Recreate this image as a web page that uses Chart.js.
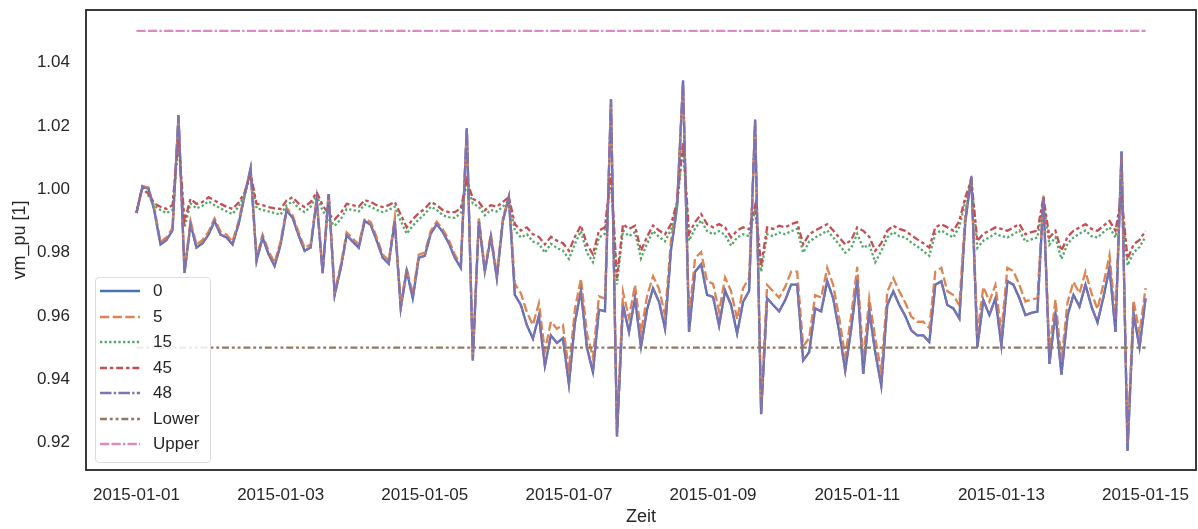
<!DOCTYPE html>
<html>
<head>
<meta charset="utf-8">
<script src="https://cdn.jsdelivr.net/npm/chart.js@4.4.1/dist/chart.umd.min.js"></script>
<style>
    html, body { margin: 0; padding: 0; background: #fff; }
    #wrap { position: relative; width: 1198px; height: 529px; }
    #legend {
        position: absolute; left: 95px; top: 277px; width: 116px; height: 186px;
        box-sizing: border-box; border: 1px solid #dcdcdc; border-radius: 4px;
        background: rgba(255, 255, 255, 0.85);
        font-family: 'Liberation Sans', Arial, sans-serif; font-size: 17px; color: #262626;
    }
    .row { position: absolute; left: 0; width: 100%; height: 26px; }
    .row svg { position: absolute; left: 4px; top: 8px; }
    .row span { position: absolute; left: 57px; top: 3px; line-height: 20px; white-space: nowrap; }
</style>
</head>
<body>
<div id="wrap">
    <canvas id="chart" width="1198" height="529"></canvas>
    <div id="legend"></div>
</div>
<script>
    "use strict";

    // Data: one value every 2 hours from 2015-01-01 00:00
    const stepHours = 2;

    const s0 = [
        0.9925, 1.0008, 1.0002, 0.9930, 0.9826, 0.9840, 0.9870, 1.0234, 0.9736, 0.9890, 0.9816, 0.9830,
        0.9857, 0.9900, 0.9857, 0.9848, 0.9826, 0.9890, 0.9980, 1.0066, 0.9774, 0.9848, 0.9795, 0.9758,
        0.9826, 0.9934, 0.9910, 0.9855, 0.9806, 0.9816, 0.9966, 0.9735, 0.9985, 0.9667, 0.9750, 0.9855,
        0.9835, 0.9816, 0.9900, 0.9888, 0.9838, 0.9784, 0.9765, 0.9900, 0.9625, 0.9742, 0.9656, 0.9784,
        0.9790, 0.9860, 0.9890, 0.9865, 0.9830, 0.9784, 0.9752, 1.0193, 0.9460, 0.9900, 0.9740, 0.9850,
        0.9720, 0.9900, 0.9975, 0.9667, 0.9635, 0.9571, 0.9529, 0.9600, 0.9443, 0.9539, 0.9515, 0.9530,
        0.9385, 0.9580, 0.9679, 0.9500, 0.9423, 0.9620, 0.9615, 1.0285, 0.9220, 0.9635, 0.9550, 0.9656,
        0.9503, 0.9620, 0.9688, 0.9645, 0.9560, 0.9810, 0.9944, 1.0343, 0.9550, 0.9740, 0.9763, 0.9667,
        0.9660, 0.9570, 0.9680, 0.9635, 0.9545, 0.9645, 0.9679, 1.0220, 0.9290, 0.9656, 0.9635, 0.9615,
        0.9650, 0.9699, 0.9699, 0.9460, 0.9486, 0.9624, 0.9615, 0.9710, 0.9656, 0.9550, 0.9428, 0.9560,
        0.9715, 0.9417, 0.9614, 0.9486, 0.9380, 0.9635, 0.9678, 0.9635, 0.9600, 0.9555, 0.9539, 0.9539,
        0.9518, 0.9699, 0.9710, 0.9635, 0.9624, 0.9592, 0.9900, 1.0040, 0.9502, 0.9650, 0.9603, 0.9656,
        0.9507, 0.9710, 0.9699, 0.9656, 0.9603, 0.9610, 0.9614, 0.9975, 0.9449, 0.9610, 0.9415, 0.9600,
        0.9667, 0.9630, 0.9699, 0.9630, 0.9580, 0.9660, 0.9752, 0.9550, 1.0119, 0.9175, 0.9608, 0.9500,
        0.9656
    ];

    const s5 = [
        0.9928, 1.0010, 1.0006, 0.9938, 0.9834, 0.9848, 0.9878, 1.0225, 0.9745, 0.9900, 0.9825, 0.9840,
        0.9866, 0.9908, 0.9866, 0.9857, 0.9835, 0.9899, 0.9985, 1.0060, 0.9784, 0.9857, 0.9805, 0.9768,
        0.9836, 0.9942, 0.9918, 0.9864, 0.9815, 0.9826, 0.9972, 0.9745, 0.9988, 0.9678, 0.9760, 0.9864,
        0.9844, 0.9826, 0.9908, 0.9897, 0.9848, 0.9794, 0.9775, 0.9908, 0.9636, 0.9752, 0.9667, 0.9794,
        0.9800, 0.9869, 0.9898, 0.9874, 0.9840, 0.9794, 0.9762, 1.0185, 0.9475, 0.9908, 0.9752, 0.9860,
        0.9732, 0.9908, 0.9978, 0.9702, 0.9672, 0.9612, 0.9572, 0.9640, 0.9490, 0.9582, 0.9560, 0.9572,
        0.9430, 0.9622, 0.9718, 0.9545, 0.9468, 0.9662, 0.9655, 1.0270, 0.9245, 0.9676, 0.9594, 0.9698,
        0.9548, 0.9662, 0.9726, 0.9686, 0.9602, 0.9840, 0.9958, 1.0330, 0.9595, 0.9782, 0.9802, 0.9710,
        0.9702, 0.9614, 0.9722, 0.9678, 0.9590, 0.9688, 0.9720, 1.0205, 0.9315, 0.9698, 0.9678, 0.9658,
        0.9692, 0.9740, 0.9740, 0.9505, 0.9530, 0.9666, 0.9658, 0.9752, 0.9698, 0.9594, 0.9472, 0.9602,
        0.9755, 0.9460, 0.9656, 0.9530, 0.9424, 0.9676, 0.9720, 0.9678, 0.9642, 0.9598, 0.9582, 0.9582,
        0.9562, 0.9740, 0.9752, 0.9678, 0.9666, 0.9634, 0.9925, 1.0040, 0.9545, 0.9692, 0.9646, 0.9698,
        0.9550, 0.9752, 0.9742, 0.9698, 0.9646, 0.9652, 0.9656, 0.9980, 0.9490, 0.9652, 0.9458, 0.9642,
        0.9708, 0.9672, 0.9740, 0.9672, 0.9622, 0.9702, 0.9792, 0.9595, 1.0110, 0.9200, 0.9650, 0.9545,
        0.9688
    ];

    const s15 = [
        0.9925, 1.0008, 0.9980, 0.9948, 0.9935, 0.9925, 0.9935, 1.0150, 0.9880, 0.9955, 0.9940, 0.9948,
        0.9962, 0.9950, 0.9940, 0.9930, 0.9922, 0.9945, 0.9982, 1.0045, 0.9940, 0.9935, 0.9930, 0.9925,
        0.9920, 0.9950, 0.9962, 0.9940, 0.9928, 0.9945, 0.9982, 0.9932, 0.9905, 0.9885, 0.9905, 0.9938,
        0.9935, 0.9930, 0.9952, 0.9945, 0.9935, 0.9928, 0.9935, 0.9945, 0.9900, 0.9860, 0.9885, 0.9905,
        0.9922, 0.9945, 0.9935, 0.9918, 0.9912, 0.9910, 0.9925, 1.0020, 0.9955, 0.9945, 0.9918, 0.9935,
        0.9930, 0.9945, 0.9965, 0.9870, 0.9848, 0.9858, 0.9835, 0.9828, 0.9800, 0.9828, 0.9815, 0.9806,
        0.9780, 0.9828, 0.9868, 0.9800, 0.9770, 0.9848, 0.9860, 1.0040, 0.9700, 0.9870, 0.9852, 0.9865,
        0.9782, 0.9828, 0.9868, 0.9850, 0.9836, 0.9872, 0.9948, 1.0140, 0.9838, 0.9876, 0.9902, 0.9868,
        0.9858, 0.9868, 0.9856, 0.9822, 0.9848, 0.9858, 0.9852, 0.9935, 0.9740, 0.9858, 0.9852, 0.9864,
        0.9858, 0.9868, 0.9875, 0.9800, 0.9835, 0.9848, 0.9858, 0.9870, 0.9848, 0.9825, 0.9800, 0.9815,
        0.9860, 0.9815, 0.9825, 0.9770, 0.9805, 0.9848, 0.9865, 0.9852, 0.9848, 0.9832, 0.9820, 0.9805,
        0.9790, 0.9860, 0.9870, 0.9858, 0.9848, 0.9882, 0.9962, 1.0025, 0.9815, 0.9838, 0.9848, 0.9860,
        0.9852, 0.9848, 0.9858, 0.9870, 0.9835, 0.9842, 0.9848, 0.9962, 0.9825, 0.9848, 0.9780, 0.9828,
        0.9848, 0.9860, 0.9870, 0.9852, 0.9848, 0.9865, 0.9880, 0.9848, 0.9970, 0.9760, 0.9800, 0.9818,
        0.9850
    ];

    const s45 = [
        0.9925, 1.0008, 0.9985, 0.9955, 0.9945, 0.9938, 0.9950, 1.0160, 0.9900, 0.9970, 0.9954, 0.9960,
        0.9975, 0.9965, 0.9954, 0.9945, 0.9938, 0.9958, 0.9990, 1.0050, 0.9954, 0.9950, 0.9944, 0.9940,
        0.9938, 0.9965, 0.9975, 0.9955, 0.9944, 0.9960, 0.9991, 0.9950, 0.9922, 0.9905, 0.9925, 0.9954,
        0.9950, 0.9945, 0.9966, 0.9960, 0.9950, 0.9944, 0.9950, 0.9960, 0.9920, 0.9880, 0.9906, 0.9925,
        0.9938, 0.9960, 0.9950, 0.9934, 0.9928, 0.9928, 0.9940, 1.0030, 0.9970, 0.9960, 0.9934, 0.9950,
        0.9945, 0.9960, 0.9975, 0.9890, 0.9870, 0.9880, 0.9858, 0.9850, 0.9826, 0.9850, 0.9838, 0.9830,
        0.9806, 0.9850, 0.9886, 0.9826, 0.9795, 0.9870, 0.9880, 1.0050, 0.9720, 0.9890, 0.9875, 0.9885,
        0.9806, 0.9850, 0.9886, 0.9870, 0.9858, 0.9890, 0.9960, 1.0150, 0.9860, 0.9896, 0.9922, 0.9890,
        0.9880, 0.9890, 0.9880, 0.9848, 0.9870, 0.9880, 0.9874, 0.9950, 0.9760, 0.9880, 0.9875, 0.9885,
        0.9880, 0.9890, 0.9896, 0.9826, 0.9858, 0.9870, 0.9880, 0.9890, 0.9870, 0.9848, 0.9826, 0.9840,
        0.9880, 0.9869, 0.9850, 0.9806, 0.9830, 0.9869, 0.9885, 0.9875, 0.9869, 0.9855, 0.9842, 0.9830,
        0.9816, 0.9880, 0.9890, 0.9880, 0.9869, 0.9900, 0.9975, 1.0030, 0.9837, 0.9860, 0.9869, 0.9880,
        0.9875, 0.9869, 0.9880, 0.9890, 0.9858, 0.9865, 0.9869, 0.9975, 0.9848, 0.9869, 0.9806, 0.9850,
        0.9869, 0.9880, 0.9890, 0.9875, 0.9869, 0.9885, 0.9900, 0.9869, 0.9980, 0.9780, 0.9826, 0.9840,
        0.9869
    ];

    const s48 = [
        0.9925, 1.0008, 1.0002, 0.9930, 0.9826, 0.9840, 0.9870, 1.0234, 0.9736, 0.9890, 0.9816, 0.9830,
        0.9857, 0.9900, 0.9857, 0.9848, 0.9826, 0.9890, 0.9980, 1.0066, 0.9774, 0.9848, 0.9795, 0.9758,
        0.9826, 0.9934, 0.9910, 0.9855, 0.9806, 0.9816, 0.9966, 0.9735, 0.9985, 0.9667, 0.9750, 0.9855,
        0.9835, 0.9816, 0.9900, 0.9888, 0.9838, 0.9784, 0.9765, 0.9900, 0.9625, 0.9742, 0.9656, 0.9784,
        0.9790, 0.9860, 0.9890, 0.9865, 0.9830, 0.9784, 0.9752, 1.0193, 0.9460, 0.9900, 0.9740, 0.9850,
        0.9720, 0.9900, 0.9975, 0.9667, 0.9635, 0.9571, 0.9529, 0.9600, 0.9443, 0.9539, 0.9515, 0.9530,
        0.9385, 0.9580, 0.9679, 0.9500, 0.9423, 0.9620, 0.9615, 1.0285, 0.9220, 0.9635, 0.9550, 0.9656,
        0.9503, 0.9620, 0.9688, 0.9645, 0.9560, 0.9810, 0.9944, 1.0343, 0.9550, 0.9740, 0.9763, 0.9667,
        0.9660, 0.9570, 0.9680, 0.9635, 0.9545, 0.9645, 0.9679, 1.0220, 0.9290, 0.9656, 0.9635, 0.9615,
        0.9650, 0.9699, 0.9699, 0.9460, 0.9486, 0.9624, 0.9615, 0.9710, 0.9656, 0.9550, 0.9428, 0.9560,
        0.9715, 0.9417, 0.9614, 0.9486, 0.9380, 0.9635, 0.9678, 0.9635, 0.9600, 0.9555, 0.9539, 0.9539,
        0.9518, 0.9699, 0.9710, 0.9635, 0.9624, 0.9592, 0.9900, 1.0040, 0.9502, 0.9650, 0.9603, 0.9656,
        0.9507, 0.9710, 0.9699, 0.9656, 0.9603, 0.9610, 0.9614, 0.9975, 0.9449, 0.9610, 0.9415, 0.9600,
        0.9667, 0.9630, 0.9699, 0.9630, 0.9580, 0.9660, 0.9752, 0.9550, 1.0119, 0.9175, 0.9608, 0.9500,
        0.9656
    ];

    const lowerLimit = 0.95;
    const upperLimit = 1.05;

    // Axis ticks (x in days since 2015-01-01)
    const xTickDays = [0, 2, 4, 6, 8, 10, 12, 14];
    const xTickLabels = ['2015-01-01', '2015-01-03', '2015-01-05', '2015-01-07',
                         '2015-01-09', '2015-01-11', '2015-01-13', '2015-01-15'];
    const yTicks = [0.92, 0.94, 0.96, 0.98, 1.00, 1.02, 1.04];

    // time of each sample, in days
    const days = s0.map(function (v, i) { return i * stepHours / 24; });

    // Styles (seaborn deep palette, dash patterns scaled to line width)
    const styles = {
        '0':     { color: '#4c72b0', dash: [] },
        '5':     { color: '#dd8452', dash: [9.2, 3.5] },
        '15':    { color: '#55a868', dash: [2.3, 2.3] },
        '45':    { color: '#c44e52', dash: [6.9, 2.9, 3.5, 2.9] },
        '48':    { color: '#8172b3', dash: [11.5, 2.3, 2.3, 2.3] },
        'Lower': { color: '#937860', dash: [6.9, 2.9, 2.9, 2.9, 2.9, 2.9] },
        'Upper': { color: '#da8bc3', dash: [9.2, 2.3, 9.2, 2.3, 2.3, 2.3] }
    };

    function toPoints(values) {
        return values.map(function (v, i) { return { x: days[i], y: v }; });
    }

    const first = days[0];
    const last = days[days.length - 1];

    const seriesList = [
        { label: '0', data: toPoints(s0) },
        { label: '5', data: toPoints(s5) },
        { label: '15', data: toPoints(s15) },
        { label: '45', data: toPoints(s45) },
        { label: '48', data: toPoints(s48) },
        { label: 'Lower', data: [{ x: first, y: lowerLimit }, { x: last, y: lowerLimit }] },
        { label: 'Upper', data: [{ x: first, y: upperLimit }, { x: last, y: upperLimit }] }
    ];

    const datasets = seriesList.map(function (s, i) {
        const st = styles[s.label];
        return {
            label: s.label,
            data: s.data,
            borderColor: st.color,
            borderDash: st.dash,
            borderWidth: 2.3,
            pointRadius: 0,
            fill: false,
            tension: 0,
            // later series drawn on top, like matplotlib
            order: seriesList.length - i
        };
    });

    const FONT = "'Liberation Sans', Arial, sans-serif";
    const TEXT = '#262626';

    // Frame around the plot area
    const frame = {
        id: 'frame',
        afterDatasetsDraw: function (chart) {
            const a = chart.chartArea;
            const g = chart.ctx;
            g.save();
            g.strokeStyle = '#262626';
            g.lineWidth = 1.8;
            g.strokeRect(a.left, a.top, a.right - a.left, a.bottom - a.top);
            g.restore();
        }
    };

    const chart = new Chart(document.getElementById('chart'), {
        type: 'line',
        data: { datasets: datasets },
        options: {
            responsive: false,
            animation: false,
            devicePixelRatio: 1,
            layout: { padding: { top: 10, right: 2, left: 0, bottom: 0 } },
            plugins: { legend: { display: false }, tooltip: { enabled: false } },
            scales: {
                x: {
                    type: 'linear',
                    min: -0.7,
                    max: 14.7,
                    grid: { display: false, drawTicks: false },
                    border: { display: false },
                    afterBuildTicks: function (s) {
                        s.ticks = xTickDays.map(function (v) { return { value: v }; });
                    },
                    afterFit: function (s) {
                        s.height = 59;
                        s.paddingLeft = 0;
                        s.paddingRight = 0;
                    },
                    ticks: {
                        autoSkip: false,
                        maxRotation: 0,
                        padding: 15,
                        color: TEXT,
                        font: { family: FONT, size: 17 },
                        callback: function (v, i) { return xTickLabels[i]; }
                    },
                    title: {
                        display: true,
                        text: 'Zeit',
                        color: TEXT,
                        font: { family: FONT, size: 18 },
                        padding: { top: 0, bottom: 1 }
                    }
                },
                y: {
                    min: 0.9114,
                    max: 1.0566,
                    grid: { display: false, drawTicks: false },
                    border: { display: false },
                    afterBuildTicks: function (s) {
                        s.ticks = yTicks.map(function (v) { return { value: v }; });
                    },
                    afterFit: function (s) {
                        s.width = 86;
                        s.paddingTop = 0;
                        s.paddingBottom = 0;
                    },
                    ticks: {
                        padding: 16,
                        color: TEXT,
                        font: { family: FONT, size: 17 },
                        callback: function (v) { return Number(v).toFixed(2); }
                    },
                    title: {
                        display: true,
                        text: 'vm_pu [1]',
                        color: TEXT,
                        font: { family: FONT, size: 18 },
                        padding: { top: 9, bottom: 0 }
                    }
                }
            }
        },
        plugins: [frame]
    });

    // Legend box in the lower left, built from the datasets
    const legend = document.getElementById('legend');
    seriesList.forEach(function (s, k) {
        const st = styles[s.label];
        const row = document.createElement('div');
        row.className = 'row';
        row.style.top = (k * 25.5) + 'px';
        row.innerHTML =
            '<svg width="40" height="10"><line x1="0" y1="5" x2="40" y2="5" stroke="' + st.color +
            '" stroke-width="2.3" stroke-dasharray="' + (st.dash.length ? st.dash.join(' ') : 'none') +
            '"/></svg><span>' + s.label + '</span>';
        legend.appendChild(row);
    });
</script>
</body>
</html>
